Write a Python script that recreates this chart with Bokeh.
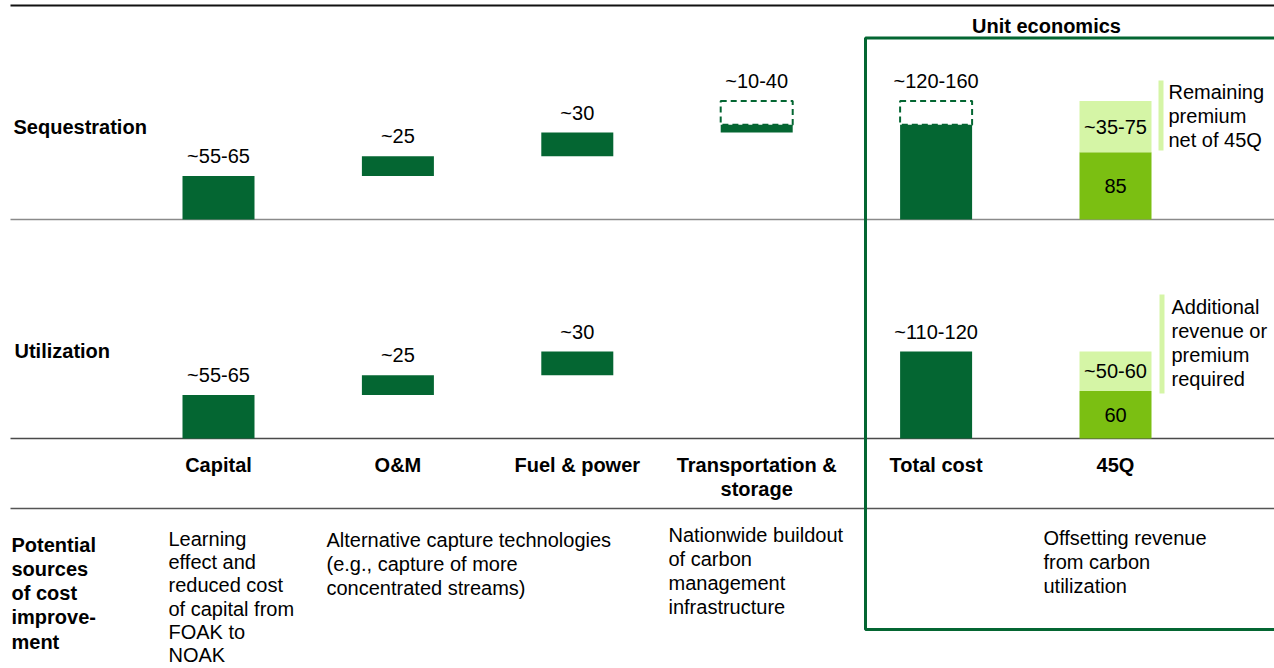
from bokeh.plotting import figure
from bokeh.models import Range1d
from bokeh.core.properties import value
from bokeh.embed import file_html
from bokeh.resources import INLINE

# ---------------- data ----------------
categories = ["Capital", "O&M", "Fuel & power", "Transportation &\nstorage", "Total cost", "45Q"]
rows = ["Sequestration", "Utilization"]

seq_cost = [55, 25, 30, 10]            # low estimates (solid bars)
seq_transport_high = 40                # upper estimate for transport & storage (dashed)
seq_labels = ["~55-65", "~25", "~30", "~10-40"]
seq_total_label = "~120-160"
seq_45q = 85
seq_gap_label = "~35-75"

util_cost = [55, 25, 30]
util_labels = ["~55-65", "~25", "~30"]
util_total_label = "~110-120"
util_45q = 60
util_gap_label = "~50-60"

unit_title = "Unit economics"
seq_note = ["Remaining", "premium", "net of 45Q"]
util_note = ["Additional", "revenue or", "premium", "required"]
improve_title = ["Potential", "sources", "of cost", "improve-", "ment"]
improve_text = [
    ["Learning", "effect and", "reduced cost", "of capital from", "FOAK to", "NOAK"],
    ["Alternative capture technologies", "(e.g., capture of more", "concentrated streams)"],
    ["Nationwide buildout", "of carbon", "management", "infrastructure"],
    ["Offsetting revenue", "from carbon", "utilization"],
]

# ---------------- style / layout ----------------
DARK = "#046632"
MID = "#7bbf12"
PALE = "#d5f5a6"
FONT = value("Liberation Sans")
FS = "20px"
W, H = 1274, 668
PPU = 0.79           # pixels per value unit
STEP = 179.4
BAR_W = 72
LABEL_OFF = -20


def X(rx):
    return rx


def Y(ry):
    return (219 - ry) / PPU


SEQ_BASE = 0.0
UTIL_BASE = Y(438)
cx = [X(218) + i * STEP for i in range(len(categories))]

p = figure(width=W, height=H, x_range=Range1d(0, W), y_range=Range1d(Y(H), Y(0)),
           output_backend="svg", toolbar_location=None, min_border=0,
           x_axis_location=None, y_axis_location=None)
p.grid.visible = False
p.outline_line_color = None
p.background_fill_color = "white"
p.border_fill_color = "white"

# horizontal rules
p.segment(x0=[X(10)], x1=[W], y0=[Y(5)], y1=[Y(5)], line_color="#111111", line_width=2)
p.segment(x0=[X(10)], x1=[W], y0=[SEQ_BASE], y1=[SEQ_BASE], line_color="#8a8a8a", line_width=1.6)
p.segment(x0=[X(10)], x1=[W], y0=[UTIL_BASE], y1=[UTIL_BASE], line_color="#4a4a4a", line_width=1.6)
p.segment(x0=[X(10)], x1=[W], y0=[Y(508)], y1=[Y(508)], line_color="#555555", line_width=1.6)


def waterfall(base, costs, labels, high_extra=None):
    bottoms, tops = [], []
    run = base
    for c in costs:
        bottoms.append(run)
        run += c
        tops.append(run)
    n = len(costs)
    total_top = run
    label_tops = list(tops)
    dashed_top = None
    if high_extra is not None:
        dashed_top = tops[-1] - costs[-1] + high_extra
        # dashed range boxes for last component and total
        p.quad(left=[cx[n - 1] - BAR_W / 2, cx[4] - BAR_W / 2],
               right=[cx[n - 1] + BAR_W / 2, cx[4] + BAR_W / 2],
               bottom=[tops[-1], total_top], top=[dashed_top, dashed_top],
               fill_color=None, line_color=DARK, line_dash="6 4", line_width=2)
        label_tops[-1] = dashed_top
    p.vbar(x=cx[:n], bottom=bottoms, top=tops, width=BAR_W, fill_color=DARK, line_color=None)
    p.vbar(x=[cx[4]], bottom=[base], top=[total_top], width=BAR_W, fill_color=DARK, line_color=None)
    p.text(x=cx[:n], y=label_tops, text=labels, text_font=FONT, text_font_size=FS,
           text_align="center", text_baseline="middle", y_offset=LABEL_OFF, text_color="black")
    return total_top, (dashed_top if dashed_top is not None else total_top)


seq_total, seq_top = waterfall(SEQ_BASE, seq_cost, seq_labels, seq_transport_high)
util_total, util_top = waterfall(UTIL_BASE, util_cost, util_labels)

p.text(x=[cx[4], cx[4]], y=[seq_top, util_top], text=[seq_total_label, util_total_label],
       text_font=FONT, text_font_size=FS, text_align="center", text_baseline="middle",
       y_offset=LABEL_OFF, text_color="black")

# 45Q stacked bars
q_base = [SEQ_BASE, UTIL_BASE]
q_credit = [seq_45q, util_45q]
q_top = [seq_top, util_top]
q_mid = [b + c for b, c in zip(q_base, q_credit)]
p.vbar(x=[cx[5]] * 2, bottom=q_base, top=q_mid, width=BAR_W, fill_color=MID, line_color=None)
p.vbar(x=[cx[5]] * 2, bottom=q_mid, top=q_top, width=BAR_W, fill_color=PALE, line_color=None)
p.text(x=[cx[5]] * 4,
       y=[(b + m) / 2 for b, m in zip(q_base, q_mid)] + [(m + t) / 2 for m, t in zip(q_mid, q_top)],
       text=[str(v) for v in q_credit] + [seq_gap_label, util_gap_label],
       text_font=FONT, text_font_size=FS, text_align="center", text_baseline="middle", text_color="black")

# row labels
p.text(x=[X(13), X(14)], y=[Y(126), Y(350)], text=rows, text_font=FONT, text_font_size=FS,
       text_font_style="bold", text_align="left", text_baseline="middle", text_color="black")

# category labels
cat_x, cat_y, cat_t = [], [], []
for i, c in enumerate(categories):
    for j, line in enumerate(c.split("\n")):
        cat_x.append(cx[i])
        cat_y.append(Y(464 + 24.3 * j))
        cat_t.append(line)
p.text(x=cat_x, y=cat_y, text=cat_t, text_font=FONT, text_font_size=FS, text_font_style="bold",
       text_align="center", text_baseline="middle", text_color="black")

# unit economics box
p.text(x=[X(1046)], y=[Y(25)], text=[unit_title], text_font=FONT, text_font_size=FS,
       text_font_style="bold", text_align="center", text_baseline="middle", text_color="black")
p.multi_line(xs=[[W + 5, X(865), X(865), W + 5]], ys=[[Y(37.5), Y(37.5), Y(629), Y(629)]],
             line_color=DARK, line_width=3)

# side notes
p.quad(left=[X(1158), X(1159)], right=[X(1163), X(1164)], bottom=[Y(150), Y(393)], top=[Y(80), Y(294)],
       fill_color=PALE, line_color=None)


def lines(x, y0, texts, bold=False, step=24.3):
    p.text(x=[x] * len(texts), y=[Y(y0 + step * k) for k in range(len(texts))], text=texts,
           text_font=FONT, text_font_size=FS, text_font_style="bold" if bold else "normal",
           text_align="left", text_baseline="middle", text_color="black")


lines(X(1168), 91, seq_note)
lines(X(1171), 306, util_note)
lines(X(11), 544, improve_title, bold=True)
lines(X(168), 538.5, improve_text[0], step=23.2)
lines(X(326), 539, improve_text[1])
lines(X(668), 534, improve_text[2])
lines(X(1043), 537, improve_text[3])

open("out.html", "w").write(file_html(p, INLINE))
